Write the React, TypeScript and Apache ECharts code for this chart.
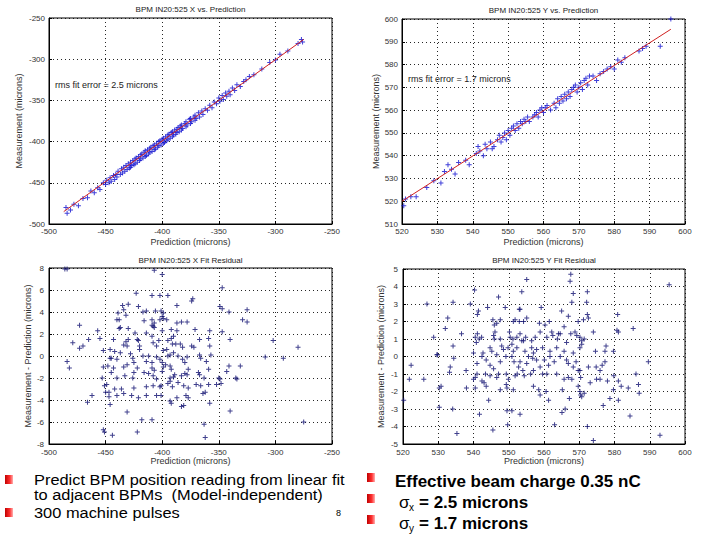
import React, { useEffect, useRef } from "react";
import * as echarts from "echarts";

// ---- Data ----
const xPredictionXRange = [-500, -250];
const yMeasurementXRange = [-500, -250];
const xPredictionYRange = [520, 600];
const yMeasurementYRange = [510, 600];
const residualXRange = [-8, 8];
const residualYRange = [-5, 5];

const titles = [
  "BPM IN20:525 X vs. Prediction",
  "BPM IN20:525 Y vs. Prediction",
  "BPM IN20:525 X Fit Residual",
  "BPM IN20:525 Y Fit Residual",
];
const rmsLabels = ["rms fit error = 2.5 microns", "rms fit error = 1.7 microns"];

const fitLineX: number[][] = [[-487, -485], [-275, -276]];
const fitLineY: number[][] = [[520, 520], [596, 595.5]];

const measVsPredX: number[][] = [
  [-485,-480],[-484,-487],[-481,-483],[-478,-476],[-474,-478],[-470,-469],[-466,-468],[-463,-460],[-460,-462],[-457,-456],
  [-455,-458],[-452,-450],[-450,-452],[-449,-447],[-447,-450],[-446,-444],[-445,-448],[-443,-441],[-442,-446],[-441,-440],
  [-440,-443],[-439,-436],[-437,-440],[-436,-433],[-435,-438],[-434,-431],[-433,-436],[-432,-429],[-431,-434],[-430,-427],
  [-429,-432],[-428,-425],[-428,-431],[-427,-429],[-426,-423],[-425,-428],[-424,-421],[-424,-427],[-423,-420],[-422,-425],
  [-421,-418],[-420,-423],[-419,-416],[-419,-421],[-418,-415],[-417,-420],[-416,-413],[-415,-418],[-415,-411],[-414,-417],
  [-413,-410],[-412,-415],[-411,-408],[-411,-413],[-410,-407],[-409,-412],[-408,-405],[-407,-410],[-407,-404],[-406,-409],
  [-405,-402],[-404,-407],[-403,-400],[-403,-405],[-402,-399],[-401,-404],[-400,-397],[-399,-402],[-399,-396],[-398,-401],
  [-397,-394],[-396,-399],[-395,-392],[-395,-397],[-394,-391],[-393,-396],[-392,-389],[-391,-394],[-391,-388],[-390,-392],
  [-389,-386],[-388,-391],[-387,-385],[-387,-389],[-386,-383],[-385,-388],[-384,-381],[-383,-386],[-383,-380],[-382,-384],
  [-380,-378],[-379,-382],[-379,-376],[-378,-380],[-376,-373],[-375,-378],[-375,-372],[-374,-376],[-372,-370],[-371,-374],
  [-371,-368],[-370,-372],[-368,-365],[-367,-370],[-365,-363],[-364,-367],[-362,-360],[-360,-362],[-358,-356],[-356,-359],
  [-354,-352],[-352,-354],[-350,-347],[-349,-351],[-347,-344],[-346,-349],[-344,-341],[-343,-345],[-341,-339],[-340,-343],
  [-338,-335],[-336,-338],[-334,-331],[-331,-333],[-328,-327],[-326,-325],[-323,-321],[-319,-319],[-312,-312],[-305,-304],
  [-300,-301],[-296,-294],[-289,-290],[-280,-281],[-277,-276],[-276,-279],
];

const measVsPredY: number[][] = [
  [520.5,518],[521,521],[522.5,522],[524,522],[527,526],[529,529],[531,528],[532,533],[533,536],[534,534],
  [535,532],[536,537],[538,538],[539,536],[541,541],[541.5,544],[542,542],[543,540],[543.5,545],[544,543],
  [545,546],[545.5,543],[546,544],[547,547],[547.5,549],[548,546],[548.5,548],[549,550],[549.5,547],[550,551],
  [550.5,549],[551,552],[551.5,553],[552,551],[552.5,554],[553,552],[553.5,555],[554,554],[554.5,556],[555,555],
  [555.5,557],[556,555],[557,557],[557.5,558],[558,559],[558.5,557],[559,560],[559.5,561],[560,559],[560.5,561],
  [561,562],[562,560],[563,563],[563.5,561],[564,565],[564.5,563],[565,566],[565.5,564],[566,567],[566.5,565],
  [567,568],[567.5,566],[568,569],[568.5,570],[569,571],[569.5,568],[570,570],[570.5,572],[571,569],[571.5,573],
  [572,574],[572.5,571],[573,575],[574,575],[575,573],[576,576],[577,577],[578,578],[579,579],[580,578],
  [581,582],[582,581],[583,583],[587,586],[588,587],[589,588],[593,588],[596,600],
];

const residualX: number[][] = [
  [-484,7.9],[-486,7.9],[-407,7.8],[-400,7.4],[-347,6.2],[-423,5.7],[-409,5.5],[-402,5.5],[-395,5.5],[-373,5.2],
  [-374,5.0],[-430,4.7],[-435,4.6],[-434,4.2],[-421,4.5],[-387,4.6],[-349,4.5],[-347,4.3],[-341,4.0],[-325,4.2],
  [-329,3.3],[-325,3.1],[-439,3.9],[-440,3.3],[-438,3.3],[-432,3.7],[-417,4.0],[-414,4.1],[-406,4.1],[-401,4.1],
  [-399,3.9],[-400,3.6],[-416,3.2],[-409,3.3],[-407,3.0],[-402,3.3],[-399,3.4],[-396,3.3],[-409,2.8],[-408,2.7],
  [-407,2.6],[-473,2.8],[-457,2.3],[-437,2.6],[-438,2.5],[-430,2.5],[-424,2.1],[-414,2.1],[-400,2.3],[-392,2.4],
  [-387,2.3],[-378,3.1],[-383,3.1],[-387,3.0],[-371,2.4],[-358,2.3],[-347,2.2],[-465,1.5],[-473,0.7],[-479,1.2],
  [-470,0.9],[-455,1.6],[-443,1.5],[-432,1.3],[-430,1.5],[-434,1.0],[-431,0.9],[-422,1.5],[-421,1.4],[-420,0.9],
  [-409,1.8],[-408,1.2],[-403,1.4],[-405,0.9],[-395,1.4],[-392,1.6],[-390,1.8],[-391,1.1],[-388,1.1],[-384,1.1],
  [-382,0.8],[-374,0.9],[-372,0.8],[-367,1.5],[-359,1.6],[-358,0.9],[-340,1.5],[-302,1.4],[-280,0.8],[-452,0.5],
  [-446,0.6],[-442,0.4],[-446,-0.2],[-445,-0.2],[-440,-0.3],[-437,0.3],[-428,0.2],[-426,-0.2],[-425,-0.6],[-420,0.6],
  [-417,0.0],[-414,-0.5],[-412,0.0],[-409,-0.6],[-405,-0.1],[-402,-0.3],[-399,0.5],[-396,0.6],[-395,0.0],[-393,0.1],
  [-400,-0.6],[-397,-0.8],[-399,-1.0],[-390,0.3],[-386,0.0],[-382,-0.3],[-378,-0.1],[-380,-0.6],[-367,0.1],[-366,-0.2],
  [-357,0.1],[-361,-0.5],[-309,-0.1],[-293,-0.2],[-484,-0.5],[-482,-1.1],[-452,-1.0],[-448,-0.9],[-443,-1.1],[-434,-1.0],
  [-431,-0.8],[-422,-1.1],[-409,-1.1],[-407,-1.3],[-400,-1.4],[-392,-1.2],[-393,-0.9],[-377,-1.2],[-368,-1.5],[-359,-1.2],
  [-341,-0.9],[-331,-0.9],[-453,-2.0],[-445,-1.5],[-440,-2.0],[-433,-1.8],[-425,-1.5],[-426,-2.0],[-416,-1.5],[-412,-1.6],
  [-408,-1.8],[-405,-2.1],[-393,-2.0],[-390,-1.9],[-389,-1.7],[-383,-1.8],[-380,-1.6],[-378,-1.7],[-367,-1.7],[-363,-2.0],
  [-350,-2.0],[-343,-1.4],[-334,-2.1],[-335,-2.0],[-451,-2.7],[-449,-2.6],[-450,-3.3],[-447,-3.3],[-442,-3.0],[-436,-3.0],
  [-425,-2.9],[-414,-2.8],[-408,-2.7],[-402,-2.8],[-401,-2.7],[-395,-2.5],[-393,-2.3],[-391,-2.8],[-386,-2.4],[-381,-2.7],
  [-377,-2.9],[-370,-2.6],[-366,-2.7],[-359,-2.6],[-352,-2.6],[-349,-2.1],[-348,-2.5],[-447,-3.7],[-440,-3.6],[-434,-3.4],
  [-427,-3.6],[-421,-3.8],[-414,-3.6],[-405,-3.6],[-401,-3.6],[-393,-4.1],[-392,-4.3],[-387,-3.8],[-383,-4.6],[-381,-4.5],
  [-379,-3.6],[-377,-3.8],[-364,-3.4],[-362,-3.3],[-358,-4.3],[-462,-3.6],[-466,-4.2],[-446,-4.4],[-431,-5.1],[-418,-5.8],
  [-409,-5.8],[-363,-6.2],[-340,-5.0],[-452,-6.7],[-451,-6.9],[-444,-7.2],[-422,-6.9],[-362,-7.4],[-275,-6.0],
];

const residualY: number[][] = [
  [567.6,4.7],[555.1,4.4],[567.4,4.3],[595.5,4.1],[540.3,3.8],[553.7,3.7],[547.1,3.4],[568.3,3.6],[572.3,3.7],[526.8,3.0],
  [534.2,3.1],[539.1,3.0],[541.4,2.6],[544.0,2.8],[549.0,2.8],[553.0,2.7],[553.2,2.7],[559.2,2.8],[565.0,2.6],[566.9,2.3],
  [567.9,3.1],[572.1,3.1],[580.9,2.4],[580.7,1.5],[581.1,1.4],[585.3,1.6],[532.7,2.2],[541.1,2.4],[545.5,2.1],[546.6,1.9],
  [545.9,1.8],[547.6,2.1],[551.3,2.0],[551.8,2.1],[553.0,2.0],[554.2,2.0],[555.1,2.2],[558.7,1.9],[561.5,2.0],[560.3,1.8],
  [562.2,1.4],[564.1,1.3],[565.7,1.7],[568.8,1.4],[569.7,2.0],[571.2,2.1],[572.6,2.2],[572.3,2.4],[574.0,1.4],[532.0,1.6],
  [536.6,1.3],[540.5,1.1],[541.1,1.3],[542.3,1.1],[546.1,1.4],[545.7,1.2],[545.9,1.0],[547.6,1.0],[550.2,1.4],[550.4,1.1],
  [551.2,1.0],[552.3,1.1],[553.2,1.3],[554.2,0.9],[554.8,1.1],[556.5,0.9],[557.5,1.1],[558.9,1.4],[560.8,1.1],[562.5,1.2],
  [563.8,1.0],[564.6,1.3],[566.4,0.8],[567.6,1.3],[569.3,1.2],[570.2,1.1],[570.7,0.9],[570.7,0.7],[571.4,1.0],[528.7,1.1],
  [534.2,0.6],[529.6,0.1],[540.0,0.2],[540.8,0.8],[541.6,1.0],[542.7,0.2],[544.7,0.5],[545.2,0.3],[548.0,0.6],[548.5,0.4],
  [549.8,0.5],[550.9,0.7],[551.3,0.3],[552.3,0.5],[553.7,0.9],[554.6,0.3],[556.5,0.5],[557.0,0.2],[557.9,0.4],[559.6,0.5],
  [561.7,0.3],[563.6,0.5],[565.7,0.3],[568.3,0.2],[570.2,0.5],[574.6,0.3],[577.3,0.3],[577.6,0.6],[579.7,0.3],[522.3,-0.5],
  [521.8,-1.3],[525.9,-1.3],[529.8,0.1],[534.4,-0.1],[533.4,-0.6],[533.2,-0.9],[537.9,-0.8],[541.0,-0.4],[542.4,0.0],[543.6,-0.2],
  [544.7,-0.5],[545.7,-0.7],[546.6,0.1],[547.6,-0.3],[549.2,0.0],[550.9,0.0],[551.5,-0.3],[552.8,-0.6],[553.2,-0.3],[555.1,-0.4],
  [555.6,0.0],[556.8,-0.1],[557.9,-0.2],[558.9,-0.6],[560.1,-0.2],[561.3,-0.5],[561.7,0.0],[562.9,-0.3],[564.6,0.0],[566.4,-0.2],
  [566.9,-0.4],[568.3,-0.6],[569.1,-0.3],[570.2,-0.8],[572.6,-0.6],[574.8,-0.6],[575.9,-0.8],[576.5,-0.5],[577.3,-0.3],[579.8,-1.1],
  [581.1,-1.4],[581.9,-1.7],[586.1,-1.0],[589.6,-0.3],[540.5,-1.2],[540.0,-1.3],[541.0,-1.0],[542.4,-1.4],[543.0,-1.5],[543.4,-1.0],
  [544.7,-1.1],[546.6,-1.2],[547.1,-1.0],[549.3,-1.0],[549.9,-1.3],[551.8,-1.1],[552.4,-1.0],[554.0,-0.8],[554.4,-1.1],[556.2,-1.0],
  [557.0,-0.8],[559.6,-1.0],[560.8,-1.0],[563.6,-1.0],[565.7,-1.3],[566.9,-1.2],[567.9,-1.3],[569.7,-0.8],[570.4,-1.2],[574.9,-1.3],
  [575.9,-1.3],[578.0,-1.4],[520.2,-2.5],[530.3,-1.8],[530.8,-1.7],[538.0,-1.8],[540.5,-1.8],[543.6,-1.7],[544.3,-2.5],[547.6,-1.9],
  [549.3,-1.6],[549.5,-1.8],[551.3,-1.9],[557.0,-1.7],[558.5,-1.9],[558.9,-2.2],[560.6,-2.0],[561.3,-2.5],[565.2,-1.9],[567.2,-2.4],
  [569.7,-1.7],[570.2,-2.0],[570.4,-2.2],[570.7,-2.3],[571.4,-2.1],[573.1,-1.5],[579.7,-1.9],[578.7,-2.4],[581.1,-2.5],[583.9,-1.8],
  [586.8,-1.6],[587.0,-2.1],[530.3,-2.9],[534.1,-3.0],[541.7,-3.3],[549.5,-3.1],[550.9,-3.1],[553.2,-3.3],[565.1,-3.2],[566.0,-3.0],
  [576.8,-2.8],[584.4,-3.4],[549.7,-3.9],[545.5,-4.2],[563.0,-3.9],[572.3,-4.0],[592.9,-4.5],[535.3,-4.4],[574.0,-4.8],
];

const leftBullets = [
  "Predict BPM position reading from linear fit",
  "to adjacent BPMs  (Model-independent)",
  "300 machine pulses",
];
const rightBullets = ["Effective beam charge 0.35 nC", "= 2.5 microns", "= 1.7 microns"];
const pageNumber = "8";

// ---- Styling ----
const FONT = "'Liberation Sans', Arial, sans-serif";
const PLUS = "path://M4,0H6V4H10V6H6V10H4V6H0V4H4Z";
const grids = [
  { left: 49, top: 18, width: 283, height: 206 },
  { left: 402, top: 19, width: 283, height: 205 },
  { left: 49, top: 268, width: 283, height: 176 },
  { left: 403, top: 269, width: 282, height: 175 },
];

function axis(gridIndex: number, range: number[], interval: number, name: string, nameGap: number, margin: number) {
  return {
    type: "value",
    gridIndex,
    min: range[0],
    max: range[1],
    interval,
    name,
    nameLocation: "middle",
    nameGap,
    nameTextStyle: { fontSize: 9, color: "#333", fontFamily: FONT },
    axisLine: { show: true, onZero: false, lineStyle: { color: "#000", width: 1 } },
    axisTick: { show: true, inside: true, length: 3, lineStyle: { color: "#000" } },
    axisLabel: { fontSize: 8, color: "#333", fontFamily: FONT, margin },
    splitLine: { show: true, lineStyle: { color: "#000", type: [1, 3], width: 1, opacity: 0.85 } },
  };
}

export default function App() {
  const ref = useRef<HTMLDivElement>(null);
  useEffect(() => {
    if (!ref.current) return;
    const chart = echarts.init(ref.current, undefined, { renderer: "svg" });
    const centers = grids.map((g) => g.left + g.width / 2);
    const bullet = (x: number, y: number) => ({
      type: "rect",
      shape: { x, y, width: 8, height: 9 },
      style: {
        fill: new echarts.graphic.LinearGradient(0, 0, 1, 0, [
          { offset: 0, color: "#c00000" },
          { offset: 0.6, color: "#ff3030" },
          { offset: 1, color: "#ffb0b0" },
        ]),
      },
    });
    const txt = (x: number, y: number, text: string, fontSize: number, extra: any = {}, scaleY = 1) => ({
      type: "text",
      x,
      y,
      scaleY,
      style: { text, fontSize, fontFamily: FONT, fill: "#000", verticalAlign: "middle", ...extra },
    });
    const option: any = {
      animation: false,
      backgroundColor: "#fff",
      grid: grids.map((g) => ({ ...g, show: true, borderColor: "#000", borderWidth: 1, backgroundColor: "transparent" })),
      xAxis: [
        axis(0, xPredictionXRange, 50, "Prediction (microns)", 13, 3),
        axis(1, xPredictionYRange, 10, "Prediction (microns)", 13, 3),
        axis(2, xPredictionXRange, 50, "Prediction (microns)", 12, 4),
        axis(3, xPredictionYRange, 10, "Prediction (microns)", 12, 4),
      ],
      yAxis: [
        axis(0, yMeasurementXRange, 50, "Measurement (microns)", 26, 4),
        axis(1, yMeasurementYRange, 10, "Measurement (microns)", 22, 4),
        axis(2, residualXRange, 2, "Measurement - Prediction (microns)", 16, 5),
        axis(3, residualYRange, 1, "Measurement - Prediction (microns)", 18, 5),
      ],
      series: [
        { type: "line", xAxisIndex: 0, yAxisIndex: 0, data: fitLineX, symbol: "none", lineStyle: { color: "#d02020", width: 1 }, z: 3 },
        { type: "line", xAxisIndex: 1, yAxisIndex: 1, data: fitLineY, symbol: "none", lineStyle: { color: "#d02020", width: 1 }, z: 3 },
        { type: "scatter", xAxisIndex: 0, yAxisIndex: 0, data: measVsPredX, symbol: PLUS, symbolSize: 5, itemStyle: { color: "#1010d0" }, z: 2 },
        { type: "scatter", xAxisIndex: 1, yAxisIndex: 1, data: measVsPredY, symbol: PLUS, symbolSize: 5, itemStyle: { color: "#1010d0" }, z: 2 },
        { type: "scatter", xAxisIndex: 2, yAxisIndex: 2, data: residualX, symbol: PLUS, symbolSize: 5, itemStyle: { color: "#101070" } },
        { type: "scatter", xAxisIndex: 3, yAxisIndex: 3, data: residualY, symbol: PLUS, symbolSize: 5, itemStyle: { color: "#101070" } },
      ],
      graphic: [
        txt(centers[0], 9, titles[0], 8, { align: "center", fill: "#222" }),
        txt(centers[1], 10, titles[1], 8, { align: "center", fill: "#222" }),
        txt(centers[2], 260, titles[2], 8, { align: "center", fill: "#222" }),
        txt(centers[3], 260, titles[3], 8, { align: "center", fill: "#222" }),
        txt(55, 85, rmsLabels[0], 9, { fill: "#222" }),
        txt(408, 79, rmsLabels[1], 9, { fill: "#222" }),
        bullet(5, 475),
        bullet(5, 508),
        txt(34, 480, leftBullets[0], 16.4, {}, 0.88),
        txt(34, 495, leftBullets[1], 16.4, {}, 0.88),
        txt(34, 513, leftBullets[2], 16.4, {}, 0.88),
        txt(336, 513, pageNumber, 9),
        bullet(367, 473),
        bullet(367, 494),
        bullet(367, 515),
        txt(395, 481, rightBullets[0], 17, { fontWeight: "bold" }),
        txt(399, 502, "σ", 17),
        txt(409, 507, "x", 10),
        txt(419, 502, rightBullets[1], 17, { fontWeight: "bold" }),
        txt(399, 523, "σ", 17),
        txt(409, 528, "y", 10),
        txt(419, 523, rightBullets[2], 17, { fontWeight: "bold" }),
      ],
    };
    chart.setOption(option);
    return () => chart.dispose();
  }, []);
  return (
    <div
      ref={ref}
      style={{ position: "absolute", left: 0, top: 0, width: 720, height: 540, background: "#fff" }}
    />
  );
}
